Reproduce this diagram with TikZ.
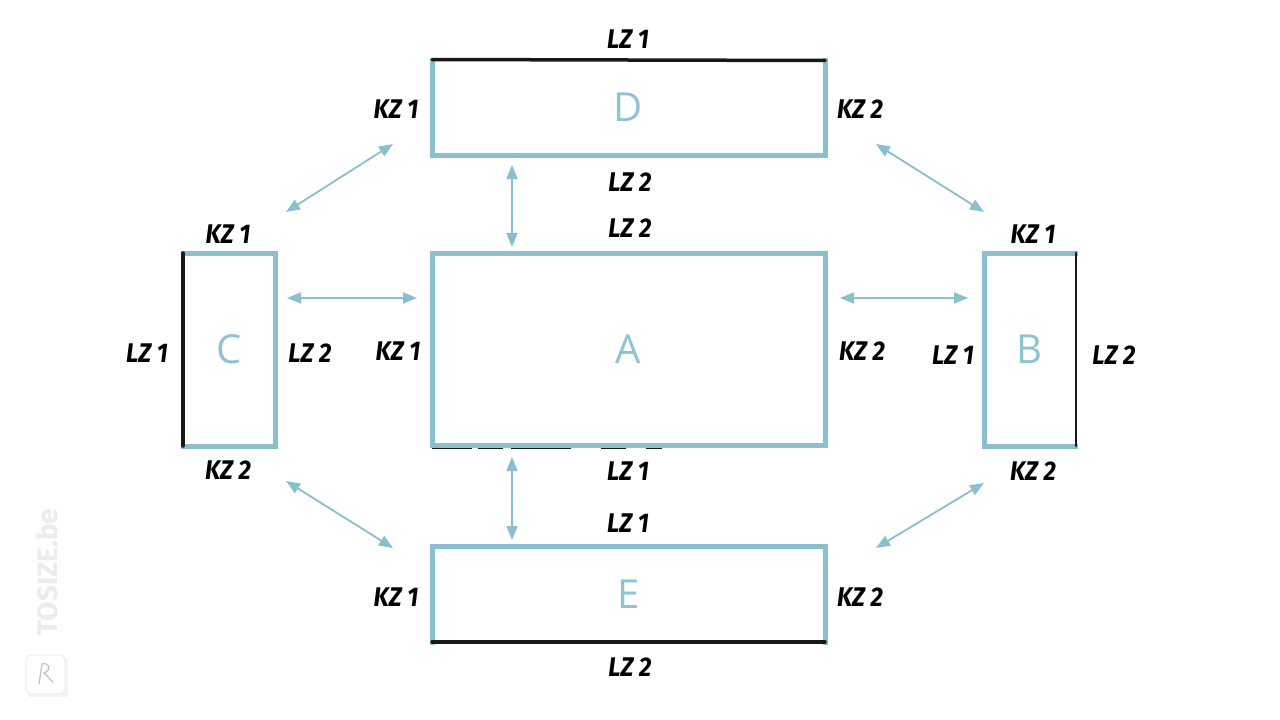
\documentclass[tikz,border=0pt]{standalone}
\usepackage{fontspec}
\setmainfont{Open Sans}
\newfontfamily\hand{Fira Sans}
\usetikzlibrary{arrows.meta}
\definecolor{boxblue}{RGB}{137,191,206}
\definecolor{letterblue}{RGB}{140,196,212}
\definecolor{inkblack}{RGB}{25,25,25}
\definecolor{wmgray}{RGB}{236,236,236}
\tikzset{
  panel/.style={draw=none, inner sep=0pt, outer sep=0pt, text=letterblue, font=\fontsize{40}{44}\selectfont},
  blueedge/.style={draw=boxblue, line width=5pt, line cap=rect, line join=miter},
  blackedge/.style={draw=inkblack, line width=3.5pt, line cap=round},
  conn/.style={draw=boxblue, line width=1.8pt, {Triangle[length=14pt,width=11pt]}-{Triangle[length=14pt,width=11pt]}},
  lbl/.style={inner sep=0pt, text=black, font=\hand\bfseries\itshape\fontsize{27}{30}\selectfont},
}
\newcommand{\hz}[1]{\scalebox{0.9}[1]{#1}}
\begin{document}
\begin{tikzpicture}[x=1pt,y=-1pt]
\useasboundingbox (0,0) rectangle (1280,720);
\fill[white] (0,0) rectangle (1280,720);

% panels
\node[panel, minimum width=393pt, minimum height=95pt] (D) at (628.5,107.5) {D};
\node[panel, minimum width=393pt, minimum height=192pt] (A) at (628.5,349) {A};
\node[panel, minimum width=92pt, minimum height=193pt] (C) at (229,349.5) {C};
\node[panel, minimum width=91pt, minimum height=193pt] (B) at (1029.5,349.5) {B};
\node[panel, minimum width=393pt, minimum height=96pt] (E) at (628.5,594) {E};

% D: top black
\draw[blueedge] (D.north west) -- (D.south west) -- (D.south east) -- (D.north east);
\draw[blackedge] ([shift={(0,-0.5)}]D.north west) -- ([shift={(0,0.5)}]D.north east);
% A: all blue, faint black under bottom-left
\draw[draw=inkblack, line width=2pt, dash pattern=on 40pt off 6pt on 25pt off 8pt on 60pt off 30pt on 25pt off 20pt]
  ([shift={(0,3)}]A.south west) -- ([shift={(230,3)}]A.south west);
\draw[blueedge] (A.north west) rectangle (A.south east);
% C: left black
\draw[blueedge] (C.north west) -- (C.north east) -- (C.south east) -- (C.south west);
\draw[blackedge] (C.north west) -- (C.south west);
% B: right black
\draw[blueedge] (B.north east) -- (B.north west) -- (B.south west) -- (B.south east);
\draw[blackedge, line width=2.8pt] ([shift={(1,0)}]B.north east) -- ([shift={(1,0)}]B.south east);
% E: bottom black
\draw[blueedge] (E.south west) -- (E.north west) -- (E.north east) -- (E.south east);
\draw[blackedge] (E.south west) -- (E.south east);

% connectors
\draw[conn] ([shift={(80,10)}]D.south west) -- ([shift={(80,-6)}]A.north west);
\draw[conn] ([shift={(80,12)}]A.south west) -- ([shift={(80,-6)}]E.north west);
\draw[conn] ([shift={(12,45)}]C.north east) -- ([shift={(-15,45)}]A.north west);
\draw[conn] ([shift={(15,45)}]A.north east) -- ([shift={(-16,45)}]B.north west);
\draw[conn] ([shift={(-39,-11)}]D.south west) -- ([shift={(11,-41)}]C.north east);
\draw[conn] ([shift={(51,-11)}]D.south east) -- ([shift={(0,-41)}]B.north west);
\draw[conn] ([shift={(11,35)}]C.south east) -- ([shift={(-39,2)}]E.north west);
\draw[conn] ([shift={(0,37)}]B.south west) -- ([shift={(51,2)}]E.north east);

% labels D
\node[lbl] (dt) at (628,39) {\hz{LZ 1}};
\node[lbl] (dl) at (396,109) {\hz{KZ 1}};
\node[lbl] (dr) at (860,109) {\hz{KZ 2}};
\node[lbl] (db) at (630,182) {\hz{LZ 2}};
% labels A
\node[lbl] (at) at (630,228) {\hz{LZ 2}};
\node[lbl] (al) at (398,351) {\hz{KZ 1}};
\node[lbl] (ar) at (862,351) {\hz{KZ 2}};
\node[lbl] (ab) at (628,471) {\hz{LZ 1}};
% labels C
\node[lbl] (ct) at (228,234) {\hz{KZ 1}};
\node[lbl] (cl) at (147,353) {\hz{LZ 1}};
\node[lbl] (cr) at (310,353) {\hz{LZ 2}};
\node[lbl] (cb) at (228,470) {\hz{KZ 2}};
% labels B
\node[lbl] (bt) at (1033,234) {\hz{KZ 1}};
\node[lbl] (bl) at (953,355) {\hz{LZ 1}};
\node[lbl] (br) at (1114,355) {\hz{LZ 2}};
\node[lbl] (bb) at (1033,471) {\hz{KZ 2}};
% labels E
\node[lbl] (et) at (628,523) {\hz{LZ 1}};
\node[lbl] (el) at (396,597) {\hz{KZ 1}};
\node[lbl] (er) at (860,597) {\hz{KZ 2}};
\node[lbl] (eb) at (630,667) {\hz{LZ 2}};

% watermark
\node[rotate=90, text=wmgray, font=\hand\bfseries\fontsize{28}{30}\selectfont, inner sep=0pt] (wm) at (47,572) {TOSIZE.be};
\fill[wmgray!60] (28,659) rectangle (68,697);
\draw[draw=wmgray, fill=white, line width=1pt, rounded corners=5pt] (26,655) rectangle (65,694);
\draw[draw=wmgray!60!gray, line width=1.2pt, line cap=round] (39,684) -- (42,664) .. controls (50,662) and (52,670) .. (44,673) .. controls (48,676) and (50,680) .. (53,682);
\end{tikzpicture}
\end{document}
